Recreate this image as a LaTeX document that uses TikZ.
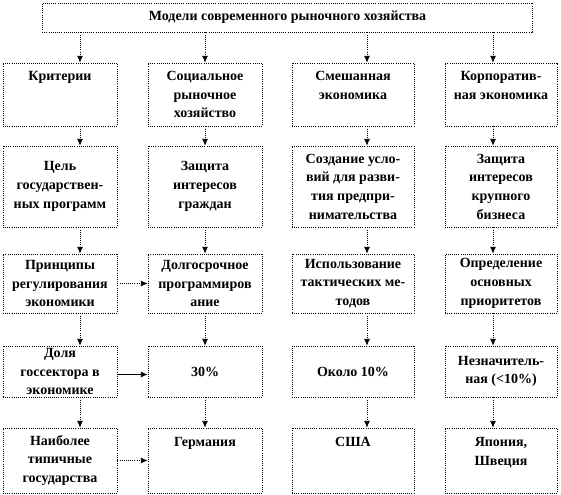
\documentclass[tikz,border=0pt]{standalone}
\usepackage{fontspec}
\setmainfont{Liberation Serif}
\usetikzlibrary{arrows.meta}
\tikzset{
  box/.style 2 args={draw, densely dotted, line width=0.6pt, minimum width=#1, minimum height=#2,
    inner sep=0pt, align=center, font=\bfseries\fontsize{10.5}{14}\selectfont},
  arr/.style={densely dotted, line width=0.6pt, -{Latex[length=5pt,width=4.5pt]}},
  solidarr/.style={line width=0.6pt, -{Latex[length=5pt,width=4.5pt]}}
}
\begin{document}
\begin{tikzpicture}[x=0.75pt,y=-0.75pt]
\useasboundingbox (0,0) rectangle (561,495);

\node[box={368pt}{21.75pt}] (models) at (287.5,17.5) {Модели современного рыночного хозяйства};

\node[box={85.5pt}{47.25pt}] (crit) at (60,94.5) {Критерии\\~\\~};
\node[box={85.5pt}{47.25pt}] (social) at (205,94.5) {Социальное\\рыночное\\хозяйство};
\node[box={91.5pt}{47.25pt}] (mixed) at (353,94.5) {Смешанная\\экономика\\~};
\node[box={84pt}{47.25pt}] (corp) at (501,94.5) {Корпоратив-\\ная экономика\\~};

\node[box={85.5pt}{60.75pt}] (goal) at (60,186.5) {Цель\\государствен-\\ных программ};
\node[box={85.5pt}{60.75pt}] (citizens) at (205,186.5) {Защита\\интересов\\граждан};
\node[box={91.5pt}{60.75pt}] (conditions) at (353,186.5) {Создание усло-\\вий для разви-\\тия предпри-\\нимательства};
\node[box={84pt}{60.75pt}] (business) at (501,186.5) {Защита\\интересов\\крупного\\бизнеса};

\node[box={85.5pt}{44.25pt}] (principles) at (60,283.5) {Принципы\\регулирования\\экономики};
\node[box={85.5pt}{44.25pt}] (longterm) at (205,283.5) {Долгосрочное\\программиров\\ание};
\node[box={91.5pt}{44.25pt}] (tactics) at (353,283.5) {Использование\\тактических ме-\\тодов};
\node[box={84pt}{44.25pt}] (priorities) at (501,283.5) {Определение\\основных\\приоритетов};

\node[box={85.5pt}{38.25pt}] (share) at (60,371.5) {Доля\\госсектора в\\экономике};
\node[box={85.5pt}{38.25pt}] (thirty) at (205,371.5) {30\%};
\node[box={91.5pt}{38.25pt}] (ten) at (353,371.5) {Около 10\%};
\node[box={84pt}{38.25pt}] (small) at (501,371.5) {Незначитель-\\ная (<10\%)};

\node[box={85.5pt}{48.75pt}] (typical) at (60,460.5) {Наиболее\\типичные\\государства};
\node[box={85.5pt}{48.75pt}] (germany) at (205,460.5) {Германия\\~\\~};
\node[box={91.5pt}{48.75pt}] (usa) at (353,460.5) {США\\~\\~};
\node[box={84pt}{48.75pt}] (japan) at (501,460.5) {Япония,\\Швеция\\~};

\draw[arr] (80,0 |- models.south) -- (80,0 |- crit.north);
\draw[arr] (80,0 |- crit.south) -- (80,0 |- goal.north);
\draw[arr] (80,0 |- goal.south) -- (80,0 |- principles.north);
\draw[arr] (80,0 |- principles.south) -- (80,0 |- share.north);
\draw[arr] (80,0 |- share.south) -- (80,0 |- typical.north);

\draw[arr] (social.north |- models.south) -- (social.north);
\draw[arr] (social.south) -- (citizens.north);
\draw[arr] (citizens.south) -- (longterm.north);
\draw[arr] (longterm.south) -- (thirty.north);
\draw[arr] (thirty.south) -- (germany.north);

\draw[arr] (367,0 |- models.south) -- (367,0 |- mixed.north);
\draw[arr] (367,0 |- mixed.south) -- (367,0 |- conditions.north);
\draw[arr] (367,0 |- conditions.south) -- (367,0 |- tactics.north);
\draw[arr] (367,0 |- tactics.south) -- (367,0 |- ten.north);
\draw[arr] (367,0 |- ten.south) -- (367,0 |- usa.north);

\draw[arr] (493,0 |- models.south) -- (493,0 |- corp.north);
\draw[arr] (493,0 |- corp.south) -- (493,0 |- business.north);
\draw[arr] (493,0 |- business.south) -- (493,0 |- priorities.north);
\draw[arr] (493,0 |- priorities.south) -- (493,0 |- small.north);
\draw[arr] (493,0 |- small.south) -- (493,0 |- japan.north);

\draw[arr] (principles.east) -- (longterm.west);
\draw[solidarr] ([yshift=-2.25pt]share.east) -- ([yshift=-2.25pt]thirty.west);
\draw[arr] (typical.east) -- (germany.west);
\end{tikzpicture}
\end{document}
